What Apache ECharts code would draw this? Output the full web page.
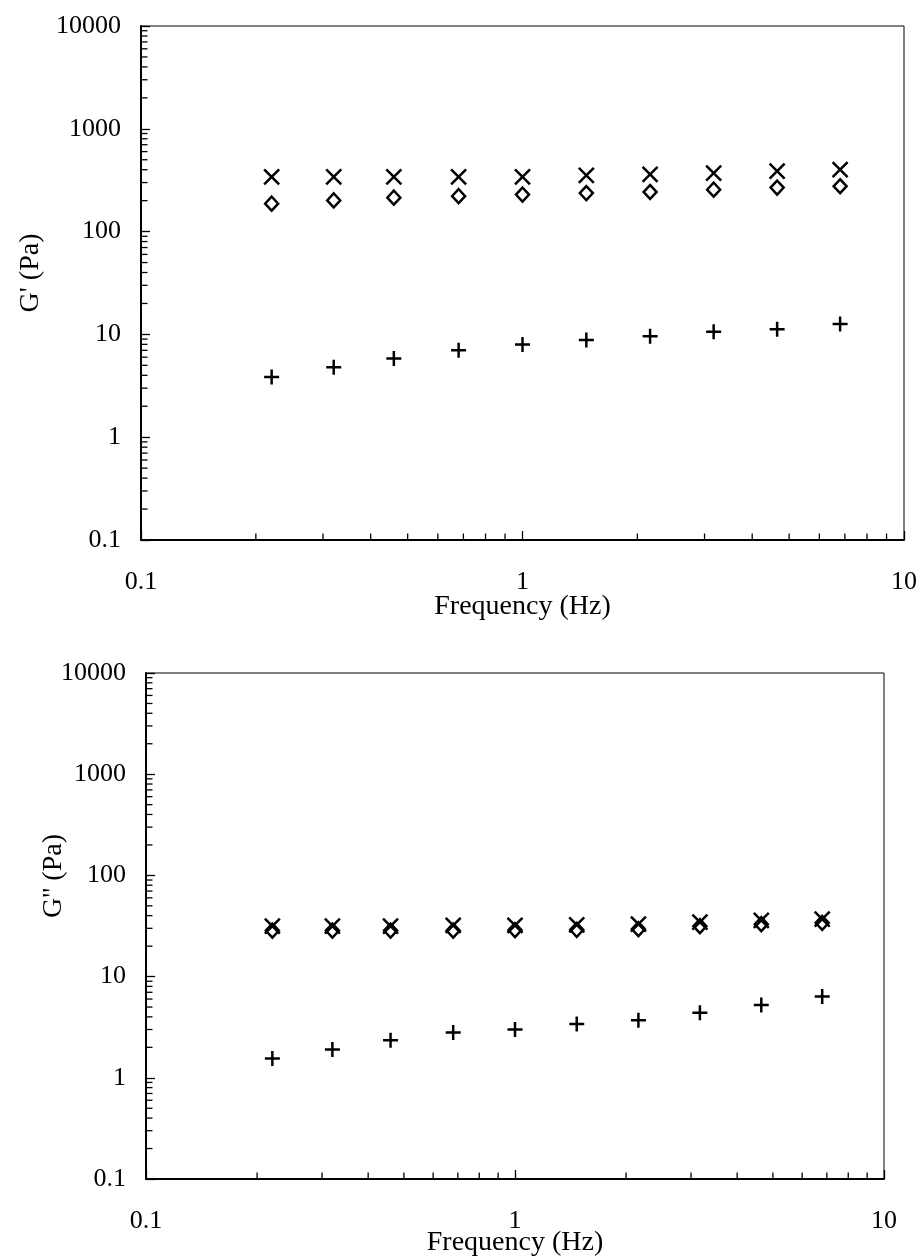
<!DOCTYPE html>
<html>
<head>
<meta charset="utf-8">
<script src="https://cdn.jsdelivr.net/npm/echarts@6/dist/echarts.min.js"></script>
<style>
  html, body { margin: 0; padding: 0; background: #fff; }
  #chart { width: 920px; height: 1258px; }
</style>
</head>
<body>
<div id="chart"></div>
<script>
// ---- data ----
const freq = [0.22, 0.32, 0.46, 0.68, 1.0, 1.47, 2.16, 3.17, 4.65, 6.8];

// Top panel: G' (Pa)
const gpCross   = [340, 340, 340, 340, 340, 352, 361, 371, 388, 401];
const gpDiamond = [187, 201, 214, 221, 229, 237, 243, 256, 268, 276];
const gpPlus    = [3.85, 4.8, 5.83, 7.03, 7.98, 8.8, 9.6, 10.6, 11.2, 12.6];

// Bottom panel: G'' (Pa)
const gppCross   = [31.5, 31.5, 31.5, 32, 32, 32.5, 33, 34.5, 36, 37];
const gppDiamond = [28.5, 28.5, 28.5, 28.5, 28.8, 29, 29.5, 31.5, 33, 34];
const gppPlus    = [1.55, 1.9, 2.35, 2.8, 3.0, 3.4, 3.7, 4.4, 5.25, 6.35];

// tick labels
const xTickLabels = ['0.1', '1', '10'];
const yTickLabels = ['0.1', '1', '10', '100', '1000', '10000'];
const xTitle = 'Frequency (Hz)';
const yTitles = ["G' (Pa)", "G'' (Pa)"];

// ---- helpers ----
const FONT = 'Liberation Serif';
const minorMant = [2, 3, 4, 5, 6, 7, 8, 9];
function minorVals(lo, hi) {
  const out = [];
  for (let e = lo; e < hi; e++) for (const m of minorMant) out.push(+(m * Math.pow(10, e)).toPrecision(6));
  return out;
}
function tickLabel(arr, v) {
  const i = Math.round(Math.log10(v)) + 1;
  return arr[i] !== undefined ? arr[i] : '';
}
const pair = (xs, ys) => xs.map((x, i) => [x, ys[i]]);

const CROSS = 'path://M0,0L10,10M0,10L10,0';
const PLUS = 'path://M5,0L5,10M0,5L10,5';

function markerSeries(idx, data, symbol, size, z) {
  return {
    type: 'scatter', xAxisIndex: idx, yAxisIndex: idx,
    data, symbol, symbolSize: size, z,
    silent: true,
    itemStyle: { color: 'transparent', borderColor: '#000', borderWidth: 2.5, opacity: 1 },
    emphasis: { disabled: true }
  };
}
function yMinor(idx) {
  return {
    type: 'custom', xAxisIndex: idx, yAxisIndex: idx, silent: true, z: 5,
    data: minorVals(-1, 4).map(v => [0.1, v]),
    renderItem(params, api) {
      const p = api.coord([api.value(0), api.value(1)]);
      return { type: 'line', shape: { x1: p[0], y1: p[1], x2: p[0] + 6.5, y2: p[1] },
               style: { stroke: '#000', lineWidth: 1.3 } };
    }
  };
}
function xMinor(idx) {
  return {
    type: 'custom', xAxisIndex: idx, yAxisIndex: idx, silent: true, z: 5,
    data: minorVals(-1, 1).map(v => [v, 0.1]),
    renderItem(params, api) {
      const p = api.coord([api.value(0), api.value(1)]);
      return { type: 'line', shape: { x1: p[0], y1: p[1], x2: p[0], y2: p[1] - 6.5 },
               style: { stroke: '#000', lineWidth: 1.3 } };
    }
  };
}
function xAxis(idx, nameGap, margin) {
  return {
    type: 'log', logBase: 10, min: 0.1, max: 10, gridIndex: idx,
    axisLine: { onZero: false, lineStyle: { color: '#000', width: 2 } },
    axisTick: { inside: true, length: 9, lineStyle: { color: '#000', width: 1.3 } },
    splitLine: { show: false },
    axisLabel: { formatter: v => tickLabel(xTickLabels, v), fontFamily: FONT, fontSize: 26, color: '#000', margin },
    name: xTitle, nameLocation: 'middle', nameGap, nameMoveOverlap: false,
    nameTextStyle: { fontFamily: FONT, fontSize: 28, color: '#000' }
  };
}
function yAxis(idx, nameGap, pad) {
  return {
    type: 'log', logBase: 10, min: 0.1, max: 10000, gridIndex: idx,
    axisLine: { onZero: false, lineStyle: { color: '#000', width: 2 } },
    axisTick: { inside: true, length: 9, lineStyle: { color: '#000', width: 1.3 } },
    splitLine: { show: false },
    axisLabel: { formatter: v => tickLabel(yTickLabels, v), fontFamily: FONT, fontSize: 26, color: '#000', margin: 20 },
    name: yTitles[idx], nameLocation: 'middle', nameGap, nameRotate: 90, nameMoveOverlap: false,
    nameTextStyle: { fontFamily: FONT, fontSize: 28, color: '#000', padding: pad }
  };
}

const chart = echarts.init(document.getElementById('chart'), null, { renderer: 'canvas' });
chart.setOption({
  backgroundColor: '#fff',
  animation: false,
  grid: [
    { left: 141, top: 26, width: 763, height: 514, show: true, borderColor: '#000', borderWidth: 1, backgroundColor: 'transparent' },
    { left: 146, top: 673, width: 738, height: 509, show: true, borderColor: '#000', borderWidth: 1, backgroundColor: 'transparent' }
  ],
  xAxis: [xAxis(0, 53, 29), xAxis(1, 50, 29)],
  yAxis: [yAxis(0, 96, [0, 0, 0, 20]), yAxis(1, 78, [0, 0, 0, 100])],
  series: [
    markerSeries(0, pair(freq, gpDiamond), 'diamond', [13, 14], 10),
    markerSeries(0, pair(freq, gpCross), CROSS, 15, 11),
    markerSeries(0, pair(freq, gpPlus), PLUS, 15, 11),
    markerSeries(1, pair(freq, gppDiamond), 'diamond', [13, 14], 10),
    markerSeries(1, pair(freq, gppCross), CROSS, 15, 11),
    markerSeries(1, pair(freq, gppPlus), PLUS, 15, 11),
    yMinor(0), xMinor(0), yMinor(1), xMinor(1)
  ]
});
</script>
</body>
</html>
